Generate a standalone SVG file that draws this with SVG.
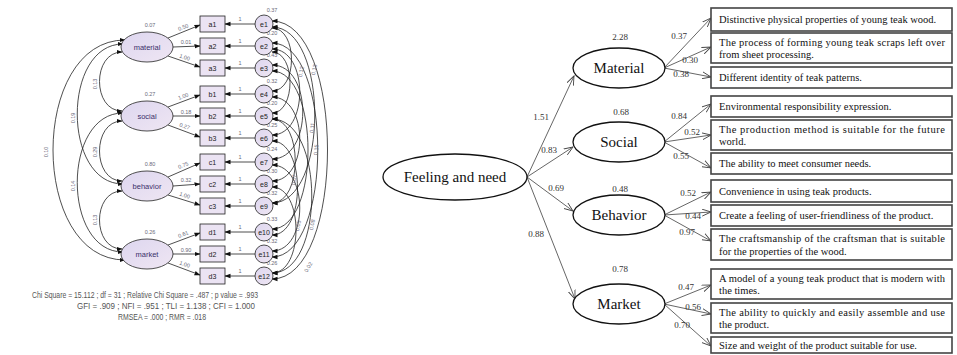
<svg xmlns="http://www.w3.org/2000/svg" width="957" height="355" viewBox="0 0 957 355">
<defs>
<marker id="ah" markerWidth="6" markerHeight="6" refX="5.5" refY="3" orient="auto-start-reverse" markerUnits="userSpaceOnUse"><path d="M0,0.8 L6,3 L0,5.2 Z" fill="#111"/></marker>
<marker id="oa" markerWidth="10" markerHeight="8" refX="9" refY="4" orient="auto" markerUnits="userSpaceOnUse"><path d="M0,0.5 L9,4 L0,7.5" fill="none" stroke="#444" stroke-width="0.9"/></marker>
<linearGradient id="lg" x1="0" y1="0" x2="1" y2="1"><stop offset="0" stop-color="#ddd6ef"/><stop offset="1" stop-color="#efe6f3"/></linearGradient>
</defs>
<style>
.lat{fill:url(#lg);stroke:#222;stroke-width:0.8}
.obs{fill:#ebe3f3;stroke:#222;stroke-width:0.8}
.err{fill:url(#lg);stroke:#222;stroke-width:0.8}
.lt{font-family:"Liberation Sans",Arial,sans-serif;font-size:7.5px;fill:#3a2f6b;text-anchor:middle}
.ot{font-family:"Liberation Sans",Arial,sans-serif;font-size:7px;fill:#222;text-anchor:middle}
.sm{font-family:"Liberation Sans",Arial,sans-serif;font-size:5.5px;fill:#6a6a7a;text-anchor:middle}
.cl{fill:none;stroke:#222;stroke-width:0.8}
.st{font-family:"Liberation Sans",Arial,sans-serif;font-size:8.5px;fill:#555}
.big{fill:#fff;stroke:#111;stroke-width:1.3}
.bt{font-family:"Liberation Serif","Times New Roman",serif;font-size:15px;fill:#111;text-anchor:middle}
.bx{fill:#fff;stroke:#444;stroke-width:1.6}
.tx{font-family:"Liberation Serif","Times New Roman",serif;font-size:10.5px;fill:#111}
.nm{font-family:"Liberation Serif","Times New Roman",serif;font-size:9px;fill:#333;text-anchor:middle}
.rl{fill:none;stroke:#555;stroke-width:0.9}
</style>

<!-- LEFT DIAGRAM -->
<g id="left-connectors">
<path class="cl" d="M122,52 C92,52 92,111 122,111" marker-start="url(#ah)" marker-end="url(#ah)"/>
<path class="cl" d="M122,121 C92,121 92,181 122,181" marker-start="url(#ah)" marker-end="url(#ah)"/>
<path class="cl" d="M122,191 C92,191 92,249 122,249" marker-start="url(#ah)" marker-end="url(#ah)"/>
<path class="cl" d="M123,44 C62,44 62,184 123,184" marker-start="url(#ah)" marker-end="url(#ah)"/>
<path class="cl" d="M123,113 C62,113 62,252 123,252" marker-start="url(#ah)" marker-end="url(#ah)"/>
<path class="cl" d="M125,40 C29,40 29,260 125,260" marker-start="url(#ah)" marker-end="url(#ah)"/>
<path class="cl" d="M168,38 L200,25" marker-end="url(#ah)"/>
<path class="cl" d="M173,47 L200,46" marker-end="url(#ah)"/>
<path class="cl" d="M168,56 L200,67" marker-end="url(#ah)"/>
<path class="cl" d="M168,107 L200,95" marker-end="url(#ah)"/>
<path class="cl" d="M173,116 L200,116" marker-end="url(#ah)"/>
<path class="cl" d="M168,125 L200,137" marker-end="url(#ah)"/>
<path class="cl" d="M168,177 L200,163" marker-end="url(#ah)"/>
<path class="cl" d="M173,186 L200,184" marker-end="url(#ah)"/>
<path class="cl" d="M168,195 L200,205" marker-end="url(#ah)"/>
<path class="cl" d="M168,245 L200,233" marker-end="url(#ah)"/>
<path class="cl" d="M173,254 L200,254" marker-end="url(#ah)"/>
<path class="cl" d="M168,263 L200,275" marker-end="url(#ah)"/>
<path class="cl" d="M255,24 L225,24" marker-end="url(#ah)"/>
<path class="cl" d="M255,46 L225,46" marker-end="url(#ah)"/>
<path class="cl" d="M255,68 L225,68" marker-end="url(#ah)"/>
<path class="cl" d="M255,94 L225,94" marker-end="url(#ah)"/>
<path class="cl" d="M255,116 L225,116" marker-end="url(#ah)"/>
<path class="cl" d="M255,138 L225,138" marker-end="url(#ah)"/>
<path class="cl" d="M255,162 L225,162" marker-end="url(#ah)"/>
<path class="cl" d="M255,184 L225,184" marker-end="url(#ah)"/>
<path class="cl" d="M255,206 L225,206" marker-end="url(#ah)"/>
<path class="cl" d="M255,232 L225,232" marker-end="url(#ah)"/>
<path class="cl" d="M255,254 L225,254" marker-end="url(#ah)"/>
<path class="cl" d="M255,276 L225,276" marker-end="url(#ah)"/>
<path class="cl" d="M272,21 C346,21 346,279 272,279" marker-start="url(#ah)" marker-end="url(#ah)"/>
<path class="cl" d="M272,27 C329,27 329,203 272,203" marker-start="url(#ah)" marker-end="url(#ah)"/>
<path class="cl" d="M272,43 C333,43 333,257 272,257" marker-start="url(#ah)" marker-end="url(#ah)"/>
<path class="cl" d="M272,49 C309,49 309,135 272,135" marker-start="url(#ah)" marker-end="url(#ah)"/>
<path class="cl" d="M272,71 C320,71 320,229 272,229" marker-start="url(#ah)" marker-end="url(#ah)"/>
<path class="cl" d="M272,28 C298,28 298,91 272,91" marker-start="url(#ah)" marker-end="url(#ah)"/>
<path class="cl" d="M272,97 C309,97 309,181 272,181" marker-start="url(#ah)" marker-end="url(#ah)"/>
<path class="cl" d="M272,119 C325,119 325,273 272,273" marker-start="url(#ah)" marker-end="url(#ah)"/>
<path class="cl" d="M272,141 C306,141 306,235 272,235" marker-start="url(#ah)" marker-end="url(#ah)"/>
<path class="cl" d="M272,165 C309,165 309,251 272,251" marker-start="url(#ah)" marker-end="url(#ah)"/>
<path class="cl" d="M272,65 C313,65 313,159 272,159" marker-start="url(#ah)" marker-end="url(#ah)"/>
<path class="cl" d="M272,187 C304,187 304,273 272,273" marker-start="url(#ah)" marker-end="url(#ah)"/>
<path class="cl" d="M272,119 C303,119 303,203 272,203" marker-start="url(#ah)" marker-end="url(#ah)"/>
<path class="cl" d="M272,52 C296,52 296,113 272,113" marker-start="url(#ah)" marker-end="url(#ah)"/>
</g>

<g id="left-labels">
<text class="sm" transform="translate(97,84) rotate(-90)">0.13</text>
<text class="sm" transform="translate(97,152) rotate(-90)">0.29</text>
<text class="sm" transform="translate(97,220) rotate(-90)">0.13</text>
<text class="sm" transform="translate(75,118) rotate(-90)">0.19</text>
<text class="sm" transform="translate(75,186) rotate(-90)">0.14</text>
<text class="sm" transform="translate(48,152) rotate(-90)">0.10</text>
<text class="sm" transform="translate(184,29) rotate(-22)">0.50</text>
<text class="sm" x="186" y="44">0.01</text>
<text class="sm" transform="translate(184,59) rotate(20)">1.00</text>
<text class="sm" transform="translate(184,98) rotate(-22)">1.00</text>
<text class="sm" x="186" y="114">0.18</text>
<text class="sm" transform="translate(184,128) rotate(20)">0.27</text>
<text class="sm" transform="translate(184,167) rotate(-22)">0.75</text>
<text class="sm" x="186" y="182">0.32</text>
<text class="sm" transform="translate(184,197) rotate(20)">1.00</text>
<text class="sm" transform="translate(184,236) rotate(-22)">0.61</text>
<text class="sm" x="186" y="252">0.90</text>
<text class="sm" transform="translate(184,266) rotate(20)">1.00</text>
<text class="sm" x="240" y="21">1</text><text class="sm" x="240" y="43">1</text><text class="sm" x="240" y="65">1</text>
<text class="sm" x="240" y="91">1</text><text class="sm" x="240" y="113">1</text><text class="sm" x="240" y="135">1</text>
<text class="sm" x="240" y="159">1</text><text class="sm" x="240" y="181">1</text><text class="sm" x="240" y="203">1</text>
<text class="sm" x="240" y="229">1</text><text class="sm" x="240" y="251">1</text><text class="sm" x="240" y="273">1</text>
<text class="sm" x="272" y="12">0.37</text><text class="sm" x="272" y="35">0.20</text><text class="sm" x="272" y="57">0.43</text>
<text class="sm" x="272" y="83">0.32</text><text class="sm" x="272" y="105">0.20</text><text class="sm" x="272" y="127">0.25</text>
<text class="sm" x="272" y="151">0.24</text><text class="sm" x="272" y="173">0.30</text><text class="sm" x="272" y="195">0.32</text>
<text class="sm" x="272" y="221">0.33</text><text class="sm" x="272" y="243">0.32</text><text class="sm" x="272" y="265">0.26</text>
<text class="sm" transform="translate(303,72) rotate(-80)">0.12</text>
<text class="sm" transform="translate(316,70) rotate(-80)">0.13</text>
<text class="sm" transform="translate(314,128) rotate(-85)">0.11</text>
<text class="sm" transform="translate(296,180) rotate(-85)">0.07</text>
<text class="sm" transform="translate(318,150) rotate(-85)">0.15</text>
<text class="sm" transform="translate(300,226) rotate(-80)">0.05</text>
<text class="sm" transform="translate(314,225) rotate(-80)">0.08</text>
<text class="sm" transform="translate(310,268) rotate(-60)">0.02</text>
</g>

<g id="material-latent"><ellipse class="lat" cx="147" cy="47" rx="26" ry="15"/><text class="lt" x="147" y="49.5">material</text><text class="sm" x="150" y="27">0.07</text></g>
<g id="social-latent"><ellipse class="lat" cx="147" cy="116" rx="26" ry="15"/><text class="lt" x="147" y="118.5">social</text><text class="sm" x="150" y="96">0.27</text></g>
<g id="behavior-latent"><ellipse class="lat" cx="147" cy="186" rx="26" ry="15"/><text class="lt" x="147" y="188.5">behavior</text><text class="sm" x="150" y="166">0.80</text></g>
<g id="market-latent"><ellipse class="lat" cx="147" cy="254" rx="26" ry="15"/><text class="lt" x="147" y="256.5">market</text><text class="sm" x="150" y="234">0.26</text></g>

<g id="a1"><rect class="obs" x="200" y="16" width="25" height="16"/><text class="ot" x="212.5" y="26.5">a1</text></g>
<g id="a2"><rect class="obs" x="200" y="38" width="25" height="16"/><text class="ot" x="212.5" y="48.5">a2</text></g>
<g id="a3"><rect class="obs" x="200" y="60" width="25" height="16"/><text class="ot" x="212.5" y="70.5">a3</text></g>
<g id="b1"><rect class="obs" x="200" y="86" width="25" height="16"/><text class="ot" x="212.5" y="96.5">b1</text></g>
<g id="b2"><rect class="obs" x="200" y="108" width="25" height="16"/><text class="ot" x="212.5" y="118.5">b2</text></g>
<g id="b3"><rect class="obs" x="200" y="130" width="25" height="16"/><text class="ot" x="212.5" y="140.5">b3</text></g>
<g id="c1"><rect class="obs" x="200" y="154" width="25" height="16"/><text class="ot" x="212.5" y="164.5">c1</text></g>
<g id="c2"><rect class="obs" x="200" y="176" width="25" height="16"/><text class="ot" x="212.5" y="186.5">c2</text></g>
<g id="c3"><rect class="obs" x="200" y="198" width="25" height="16"/><text class="ot" x="212.5" y="208.5">c3</text></g>
<g id="d1"><rect class="obs" x="200" y="224" width="25" height="16"/><text class="ot" x="212.5" y="234.5">d1</text></g>
<g id="d2"><rect class="obs" x="200" y="246" width="25" height="16"/><text class="ot" x="212.5" y="256.5">d2</text></g>
<g id="d3"><rect class="obs" x="200" y="268" width="25" height="16"/><text class="ot" x="212.5" y="278.5">d3</text></g>

<g id="e1"><circle class="err" cx="264" cy="24" r="9"/><text class="ot" x="264" y="26.5">e1</text></g>
<g id="e2"><circle class="err" cx="264" cy="46" r="9"/><text class="ot" x="264" y="48.5">e2</text></g>
<g id="e3"><circle class="err" cx="264" cy="68" r="9"/><text class="ot" x="264" y="70.5">e3</text></g>
<g id="e4"><circle class="err" cx="264" cy="94" r="9"/><text class="ot" x="264" y="96.5">e4</text></g>
<g id="e5"><circle class="err" cx="264" cy="116" r="9"/><text class="ot" x="264" y="118.5">e5</text></g>
<g id="e6"><circle class="err" cx="264" cy="138" r="9"/><text class="ot" x="264" y="140.5">e6</text></g>
<g id="e7"><circle class="err" cx="264" cy="162" r="9"/><text class="ot" x="264" y="164.5">e7</text></g>
<g id="e8"><circle class="err" cx="264" cy="184" r="9"/><text class="ot" x="264" y="186.5">e8</text></g>
<g id="e9"><circle class="err" cx="264" cy="206" r="9"/><text class="ot" x="264" y="208.5">e9</text></g>
<g id="e10"><circle class="err" cx="264" cy="232" r="9"/><text class="ot" x="264" y="234.5">e10</text></g>
<g id="e11"><circle class="err" cx="264" cy="254" r="9"/><text class="ot" x="264" y="256.5">e11</text></g>
<g id="e12"><circle class="err" cx="264" cy="276" r="9"/><text class="ot" x="264" y="278.5">e12</text></g>

<g id="fit-stats">
<text class="st" x="32" y="298" textLength="226" lengthAdjust="spacingAndGlyphs">Chi Square = 15.112 ; df = 31 ; Relative Chi Square = .487 ; p value = .993</text>
<text class="st" x="77" y="309" textLength="178" lengthAdjust="spacingAndGlyphs">GFI = .909 ; NFI = .951 ; TLI = 1.138 ; CFI = 1.000</text>
<text class="st" x="118" y="320" textLength="88" lengthAdjust="spacingAndGlyphs">RMSEA = .000 ; RMR = .018</text>
</g>

<!-- RIGHT DIAGRAM -->
<g id="connectors">
<path class="rl" d="M527,177 L574,76" marker-end="url(#oa)"/>
<path class="rl" d="M527,177 L573,147" marker-end="url(#oa)"/>
<path class="rl" d="M527,177 L573,211" marker-end="url(#oa)"/>
<path class="rl" d="M527,177 L575,299" marker-end="url(#oa)"/>
<path class="rl" d="M664,68 L711,18" marker-end="url(#oa)"/>
<path class="rl" d="M664,68 L711,47" marker-end="url(#oa)"/>
<path class="rl" d="M664,68 L711,77" marker-end="url(#oa)"/>
<path class="rl" d="M664,142 L711,104" marker-end="url(#oa)"/>
<path class="rl" d="M664,142 L711,135" marker-end="url(#oa)"/>
<path class="rl" d="M664,142 L711,168" marker-end="url(#oa)"/>
<path class="rl" d="M664,215 L711,192" marker-end="url(#oa)"/>
<path class="rl" d="M664,215 L711,212" marker-end="url(#oa)"/>
<path class="rl" d="M664,215 L711,241" marker-end="url(#oa)"/>
<path class="rl" d="M664,304 L711,285" marker-end="url(#oa)"/>
<path class="rl" d="M664,304 L711,314" marker-end="url(#oa)"/>
<path class="rl" d="M664,304 L711,346" marker-end="url(#oa)"/>
<text class="nm" x="541" y="120">1.51</text>
<text class="nm" x="549" y="153">0.83</text>
<text class="nm" x="556" y="191">0.69</text>
<text class="nm" x="536" y="237">0.88</text>
<text class="nm" x="679" y="39">0.37</text>
<text class="nm" x="690" y="63">0.30</text>
<text class="nm" x="681" y="77">0.38</text>
<text class="nm" x="679" y="119">0.84</text>
<text class="nm" x="692" y="135">0.52</text>
<text class="nm" x="681" y="159">0.55</text>
<text class="nm" x="688" y="196">0.52</text>
<text class="nm" x="693" y="219">0.44</text>
<text class="nm" x="687" y="235">0.97</text>
<text class="nm" x="686" y="290">0.47</text>
<text class="nm" x="693" y="310">0.56</text>
<text class="nm" x="682" y="328">0.70</text>
</g>

<g id="feeling-and-need"><ellipse class="big" cx="455" cy="177" rx="72" ry="23"/><text class="bt" x="455" y="182">Feeling and need</text></g>
<g id="material"><ellipse class="big" cx="619" cy="68" rx="46" ry="20"/><text class="bt" x="619" y="73">Material</text><text class="nm" x="620" y="40">2.28</text></g>
<g id="social"><ellipse class="big" cx="619" cy="142" rx="46" ry="20"/><text class="bt" x="619" y="147">Social</text><text class="nm" x="621" y="115">0.68</text></g>
<g id="behavior"><ellipse class="big" cx="619" cy="215" rx="46" ry="20"/><text class="bt" x="619" y="220">Behavior</text><text class="nm" x="620" y="192">0.48</text></g>
<g id="market"><ellipse class="big" cx="619" cy="304" rx="46" ry="20"/><text class="bt" x="619" y="309">Market</text><text class="nm" x="620" y="272">0.78</text></g>

<g id="item-m1"><rect class="bx" x="711" y="8" width="241" height="23"/><text class="tx" x="719" y="23">Distinctive physical properties of young teak wood.</text></g>
<g id="item-m2"><rect class="bx" x="711" y="33" width="241" height="30"/><text class="tx" x="719" y="46" textLength="226" lengthAdjust="spacing">The process of forming young teak scraps left over</text><text class="tx" x="719" y="58">from sheet processing.</text></g>
<g id="item-m3"><rect class="bx" x="711" y="67" width="241" height="21"/><text class="tx" x="719" y="81">Different identity of teak patterns.</text></g>
<g id="item-s1"><rect class="bx" x="711" y="96" width="241" height="21"/><text class="tx" x="719" y="110">Environmental responsibility expression.</text></g>
<g id="item-s2"><rect class="bx" x="711" y="120" width="241" height="30"/><text class="tx" x="719" y="133" textLength="226" lengthAdjust="spacing">The production method is suitable for the future</text><text class="tx" x="719" y="145">world.</text></g>
<g id="item-s3"><rect class="bx" x="711" y="153" width="241" height="21"/><text class="tx" x="719" y="167">The ability to meet consumer needs.</text></g>
<g id="item-b1"><rect class="bx" x="711" y="180" width="241" height="22"/><text class="tx" x="719" y="195">Convenience in using teak products.</text></g>
<g id="item-b2"><rect class="bx" x="711" y="205" width="241" height="21"/><text class="tx" x="719" y="219">Create a feeling of user-friendliness of the product.</text></g>
<g id="item-b3"><rect class="bx" x="711" y="229" width="241" height="31"/><text class="tx" x="719" y="242" textLength="226" lengthAdjust="spacing">The craftsmanship of the craftsman that is suitable</text><text class="tx" x="719" y="255">for the properties of the wood.</text></g>
<g id="item-k1"><rect class="bx" x="711" y="269" width="241" height="30"/><text class="tx" x="719" y="282" textLength="226" lengthAdjust="spacing">A model of a young teak product that is modern with</text><text class="tx" x="719" y="294">the times.</text></g>
<g id="item-k2"><rect class="bx" x="711" y="303" width="241" height="30"/><text class="tx" x="719" y="316" textLength="226" lengthAdjust="spacing">The ability to quickly and easily assemble and use</text><text class="tx" x="719" y="328">the product.</text></g>
<g id="item-k3"><rect class="bx" x="711" y="337" width="241" height="16"/><text class="tx" x="719" y="349">Size and weight of the product suitable for use.</text></g>
</svg>
